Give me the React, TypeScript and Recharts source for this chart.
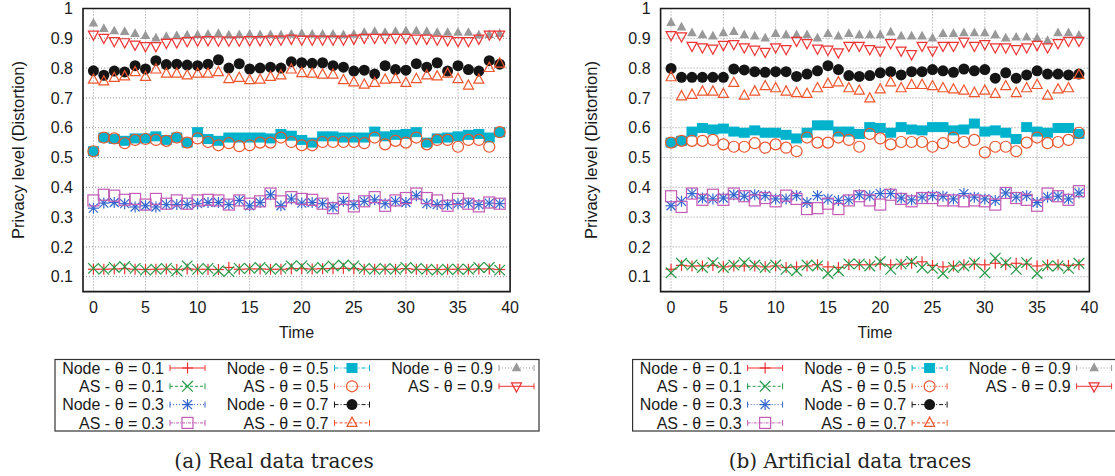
import React from 'react';
import { ScatterChart, Scatter, XAxis, YAxis, CartesianGrid, ReferenceArea, Label } from 'recharts';

const TIME = [0,1,2,3,4,5,6,7,8,9,10,11,12,13,14,15,16,17,18,19,20,21,22,23,24,25,26,27,28,29,30,31,32,33,34,35,36,37,38,39];
const X_TICKS = [0,5,10,15,20,25,30,35,40];
const Y_TICKS = [0.1,0.2,0.3,0.4,0.5,0.6,0.7,0.8,0.9,1];
const SERIES_NAMES = ['Node - θ = 0.1','AS - θ = 0.1','Node - θ = 0.3','AS - θ = 0.3','Node - θ = 0.5','AS - θ = 0.5','Node - θ = 0.7','AS - θ = 0.7','Node - θ = 0.9','AS - θ = 0.9'];

// (a) Real data traces
const A_NODE_01 = [0.125,0.125,0.126,0.127,0.125,0.124,0.125,0.126,0.124,0.126,0.125,0.125,0.124,0.131,0.125,0.126,0.126,0.125,0.125,0.127,0.127,0.126,0.127,0.127,0.128,0.127,0.125,0.125,0.125,0.125,0.127,0.125,0.124,0.124,0.125,0.125,0.125,0.126,0.126,0.124];
const A_AS_01 = [0.128,0.125,0.131,0.134,0.128,0.122,0.125,0.128,0.120,0.136,0.125,0.128,0.120,0.117,0.128,0.128,0.131,0.125,0.128,0.136,0.136,0.128,0.131,0.136,0.139,0.136,0.128,0.125,0.128,0.125,0.131,0.128,0.125,0.122,0.125,0.125,0.125,0.131,0.131,0.122];
const A_NODE_03 = [0.330,0.347,0.349,0.345,0.334,0.338,0.334,0.342,0.342,0.342,0.345,0.349,0.349,0.342,0.356,0.338,0.349,0.375,0.338,0.361,0.347,0.349,0.345,0.334,0.353,0.342,0.353,0.358,0.345,0.353,0.349,0.372,0.345,0.342,0.342,0.345,0.347,0.342,0.347,0.345];
const A_AS_03 = [0.356,0.375,0.372,0.358,0.361,0.342,0.361,0.345,0.356,0.345,0.356,0.358,0.356,0.342,0.356,0.345,0.353,0.379,0.353,0.367,0.361,0.358,0.345,0.330,0.361,0.336,0.353,0.367,0.338,0.356,0.364,0.379,0.364,0.356,0.338,0.361,0.345,0.336,0.349,0.345];
const A_NODE_05 = [0.521,0.567,0.562,0.556,0.564,0.564,0.571,0.559,0.567,0.550,0.585,0.562,0.556,0.567,0.567,0.567,0.567,0.564,0.579,0.573,0.559,0.550,0.571,0.571,0.567,0.567,0.567,0.587,0.571,0.576,0.579,0.585,0.550,0.564,0.567,0.571,0.576,0.579,0.567,0.585];
const A_AS_05 = [0.521,0.567,0.564,0.548,0.559,0.562,0.559,0.556,0.567,0.550,0.564,0.552,0.541,0.548,0.538,0.541,0.550,0.550,0.567,0.552,0.541,0.541,0.552,0.552,0.552,0.552,0.548,0.567,0.544,0.556,0.550,0.567,0.544,0.559,0.559,0.536,0.559,0.559,0.536,0.585];
const A_NODE_07 = [0.791,0.776,0.790,0.787,0.808,0.797,0.825,0.812,0.813,0.810,0.808,0.813,0.828,0.800,0.815,0.797,0.800,0.803,0.800,0.821,0.818,0.816,0.818,0.808,0.803,0.790,0.793,0.780,0.808,0.795,0.793,0.815,0.803,0.818,0.790,0.808,0.795,0.790,0.825,0.813];
const A_AS_07 = [0.761,0.755,0.767,0.772,0.786,0.770,0.795,0.781,0.781,0.775,0.781,0.781,0.786,0.763,0.767,0.759,0.761,0.770,0.775,0.795,0.783,0.781,0.778,0.778,0.759,0.752,0.744,0.750,0.761,0.763,0.750,0.763,0.775,0.772,0.781,0.763,0.741,0.761,0.800,0.815];
const A_NODE_09 = [0.950,0.932,0.924,0.922,0.915,0.908,0.900,0.905,0.908,0.910,0.911,0.913,0.915,0.910,0.911,0.913,0.911,0.911,0.910,0.913,0.915,0.913,0.913,0.913,0.911,0.913,0.919,0.922,0.919,0.922,0.924,0.924,0.922,0.919,0.919,0.919,0.919,0.910,0.912,0.915];
const A_AS_09 = [0.913,0.902,0.891,0.887,0.879,0.874,0.874,0.885,0.887,0.891,0.893,0.894,0.893,0.893,0.893,0.894,0.894,0.896,0.896,0.899,0.896,0.896,0.896,0.896,0.896,0.899,0.902,0.902,0.902,0.902,0.902,0.899,0.899,0.896,0.894,0.891,0.891,0.899,0.913,0.913];

// (b) Artificial data traces
const B_NODE_01 = [0.125,0.138,0.136,0.136,0.138,0.133,0.136,0.136,0.136,0.133,0.136,0.131,0.133,0.136,0.140,0.133,0.131,0.140,0.140,0.140,0.142,0.140,0.142,0.145,0.150,0.138,0.133,0.136,0.140,0.142,0.140,0.145,0.140,0.145,0.142,0.136,0.140,0.140,0.138,0.140];
const B_AS_01 = [0.113,0.145,0.139,0.131,0.147,0.131,0.139,0.147,0.139,0.131,0.139,0.125,0.120,0.139,0.136,0.111,0.120,0.143,0.143,0.136,0.151,0.125,0.143,0.151,0.131,0.128,0.111,0.131,0.136,0.147,0.113,0.162,0.147,0.125,0.147,0.111,0.136,0.136,0.128,0.145];
const B_NODE_03 = [0.338,0.353,0.379,0.364,0.361,0.364,0.375,0.370,0.375,0.372,0.361,0.361,0.372,0.349,0.372,0.361,0.356,0.358,0.375,0.372,0.379,0.379,0.364,0.358,0.367,0.372,0.370,0.361,0.379,0.367,0.361,0.356,0.381,0.367,0.372,0.349,0.367,0.370,0.361,0.381];
const B_AS_03 = [0.370,0.334,0.379,0.358,0.375,0.358,0.379,0.370,0.356,0.364,0.353,0.372,0.361,0.327,0.330,0.345,0.327,0.356,0.370,0.356,0.342,0.375,0.361,0.353,0.364,0.364,0.356,0.356,0.353,0.356,0.353,0.342,0.381,0.364,0.358,0.338,0.379,0.370,0.358,0.387];
const B_NODE_05 = [0.550,0.556,0.587,0.599,0.594,0.597,0.587,0.583,0.591,0.583,0.583,0.576,0.564,0.583,0.608,0.608,0.587,0.587,0.579,0.602,0.599,0.583,0.602,0.594,0.591,0.602,0.602,0.591,0.594,0.614,0.587,0.591,0.583,0.562,0.602,0.587,0.583,0.599,0.599,0.579];
const B_AS_05 = [0.550,0.556,0.556,0.556,0.559,0.544,0.536,0.536,0.548,0.533,0.544,0.533,0.521,0.567,0.550,0.550,0.567,0.559,0.536,0.579,0.564,0.544,0.552,0.552,0.552,0.536,0.548,0.567,0.552,0.559,0.517,0.536,0.536,0.521,0.550,0.567,0.548,0.552,0.559,0.583];
const B_NODE_07 = [0.799,0.769,0.769,0.769,0.769,0.769,0.797,0.794,0.788,0.786,0.788,0.788,0.772,0.780,0.791,0.808,0.795,0.775,0.772,0.775,0.784,0.788,0.777,0.788,0.788,0.795,0.791,0.786,0.797,0.791,0.795,0.766,0.784,0.766,0.777,0.791,0.780,0.780,0.777,0.780];
const B_AS_07 = [0.769,0.705,0.710,0.721,0.721,0.713,0.750,0.707,0.721,0.739,0.732,0.721,0.716,0.713,0.732,0.747,0.752,0.732,0.724,0.698,0.728,0.752,0.732,0.743,0.743,0.739,0.732,0.728,0.724,0.716,0.724,0.713,0.739,0.716,0.732,0.743,0.707,0.728,0.732,0.777];
const B_NODE_09 = [0.952,0.937,0.918,0.911,0.907,0.918,0.922,0.911,0.907,0.900,0.915,0.911,0.911,0.911,0.900,0.915,0.907,0.915,0.911,0.911,0.911,0.920,0.907,0.907,0.907,0.900,0.915,0.915,0.918,0.918,0.918,0.911,0.900,0.903,0.903,0.900,0.892,0.918,0.918,0.909];
const B_AS_09 = [0.911,0.907,0.875,0.870,0.866,0.878,0.881,0.870,0.862,0.855,0.870,0.864,0.892,0.884,0.866,0.862,0.853,0.875,0.875,0.864,0.859,0.884,0.859,0.847,0.875,0.859,0.875,0.875,0.889,0.875,0.881,0.870,0.870,0.864,0.870,0.878,0.870,0.884,0.892,0.892];

const A_VALUES = [A_NODE_01, A_AS_01, A_NODE_03, A_AS_03, A_NODE_05, A_AS_05, A_NODE_07, A_AS_07, A_NODE_09, A_AS_09];
const B_VALUES = [B_NODE_01, B_AS_01, B_NODE_03, B_AS_03, B_NODE_05, B_AS_05, B_NODE_07, B_AS_07, B_NODE_09, B_AS_09];

const STYLES = [
  { color: '#ee3333', marker: 'plus', dash: undefined },
  { color: '#229944', marker: 'cross', dash: '3 2' },
  { color: '#3366cc', marker: 'star', dash: '1 2' },
  { color: '#c25cb5', marker: 'square', dash: '3 1 1 1' },
  { color: '#00b2cc', marker: 'squareFill', dash: '4 2 1 2' },
  { color: '#e8552e', marker: 'circle', dash: '1 2' },
  { color: '#151515', marker: 'circleFill', dash: '4 2 1 2' },
  { color: '#f0552e', marker: 'triUp', dash: '3 2' },
  { color: '#999999', marker: 'triUpFill', dash: '1 2' },
  { color: '#ee3333', marker: 'triDown', dash: undefined },
];

const FONT = '"Liberation Sans", Arial, Helvetica, sans-serif';

function Marker({ kind, cx, cy, color }: { kind: string; cx: number; cy: number; color: string }) {
  const sw = 1.2;
  switch (kind) {
    case 'plus':
      return (<g stroke={color} strokeWidth={sw}><line x1={cx - 5.5} y1={cy} x2={cx + 5.5} y2={cy} /><line x1={cx} y1={cy - 5.5} x2={cx} y2={cy + 5.5} /></g>);
    case 'cross':
      return (<g stroke={color} strokeWidth={sw}><line x1={cx - 5.3} y1={cy - 5.3} x2={cx + 5.3} y2={cy + 5.3} /><line x1={cx - 5.3} y1={cy + 5.3} x2={cx + 5.3} y2={cy - 5.3} /></g>);
    case 'star':
      return (<g stroke={color} strokeWidth={sw}><line x1={cx - 5.5} y1={cy} x2={cx + 5.5} y2={cy} /><line x1={cx} y1={cy - 5.5} x2={cx} y2={cy + 5.5} /><line x1={cx - 4.5} y1={cy - 4.5} x2={cx + 4.5} y2={cy + 4.5} /><line x1={cx - 4.5} y1={cy + 4.5} x2={cx + 4.5} y2={cy - 4.5} /></g>);
    case 'square':
      return <rect x={cx - 5.5} y={cy - 5.5} width={11} height={11} fill="none" stroke={color} strokeWidth={sw} />;
    case 'squareFill':
      return <rect x={cx - 5.5} y={cy - 5} width={11} height={10} fill={color} stroke="none" />;
    case 'circle':
      return <circle cx={cx} cy={cy} r={5.5} fill="none" stroke={color} strokeWidth={sw} />;
    case 'circleFill':
      return <circle cx={cx} cy={cy} r={5.5} fill={color} stroke="none" />;
    case 'triUp':
      return <polygon points={`${cx},${cy - 5.8} ${cx - 5},${cy + 3.4} ${cx + 5},${cy + 3.4}`} fill="none" stroke={color} strokeWidth={sw} />;
    case 'triUpFill':
      return <polygon points={`${cx},${cy - 5.5} ${cx - 4.8},${cy + 3.2} ${cx + 4.8},${cy + 3.2}`} fill={color} stroke="none" />;
    case 'triDown':
      return <polygon points={`${cx},${cy + 5.8} ${cx - 5},${cy - 3.4} ${cx + 5},${cy - 3.4}`} fill="none" stroke={color} strokeWidth={sw} />;
    default:
      return null;
  }
}

const PLOT_TOP = 8.5;
const PLOT_BOTTOM = 291.6;
const CH_H = 340;
const X_AX_H = 30;
const Y_AX_W = 60;

function Panel({ left, width, plotLeft, plotRight, titleX, values }: { left: number; width: number; plotLeft: number; plotRight: number; titleX: number; values: number[][] }) {
  const tickStyle = { fontSize: 16, fill: '#1a1a1a', fontFamily: FONT };
  return (
    <div style={{ position: 'absolute', left, top: 0, width, height: CH_H }}>
      <ScatterChart
        width={width}
        height={CH_H}
        margin={{ top: PLOT_TOP, right: width - plotRight, bottom: CH_H - PLOT_BOTTOM - X_AX_H, left: plotLeft - Y_AX_W }}
      >
        <CartesianGrid stroke="#888888" strokeDasharray="1 2" strokeWidth={0.9} />
        <XAxis type="number" dataKey="t" domain={[-1, 40]} ticks={X_TICKS} tickLine={false} axisLine={false} height={X_AX_H} tick={tickStyle} tickSize={6} tickMargin={4} interval={0}>
          <Label content={(p: any) => {
            const vb = p.viewBox || { x: 0, width: 0 };
            return <text x={vb.x + vb.width / 2} y={338} textAnchor="middle" fontSize={16} fontFamily={FONT} fill="#1a1a1a">Time</text>;
          }} />
        </XAxis>
        <YAxis type="number" dataKey="v" domain={[0.05, 1]} ticks={Y_TICKS} tickLine={false} axisLine={false} width={Y_AX_W} tick={tickStyle} tickSize={6} tickMargin={4} interval={0} tickFormatter={(v: number) => (v === 1 ? '1' : String(v))}>
          <Label content={() => {
            const cy = (PLOT_TOP + PLOT_BOTTOM) / 2;
            return <text x={titleX} y={cy} transform={`rotate(-90, ${titleX}, ${cy})`} textAnchor="middle" dominantBaseline="central" fontSize={16.5} fontFamily={FONT} fill="#1a1a1a">Privacy level (Distortion)</text>;
          }} />
        </YAxis>
        {values.map((arr, si) => (
          <Scatter
            key={si}
            name={SERIES_NAMES[si]}
            data={arr.map((v, i) => ({ t: TIME[i], v }))}
            isAnimationActive={false}
            shape={(p: any) => <Marker kind={STYLES[si].marker} cx={p.cx} cy={p.cy} color={STYLES[si].color} />}
          />
        ))}
        <ReferenceArea x1={-1} x2={40} y1={0.05} y2={1} fill="none" fillOpacity={0} stroke="#1a1a1a" strokeWidth={1.6} ifOverflow="visible" />
      </ScatterChart>
    </div>
  );
}

const ROW_Y = [368, 386.3, 404.6, 422.9];

function LegendBox({ boxX, boxW }: { boxX: number; boxW: number }) {
  return (
    <g>
      <rect x={boxX} y={359.5} width={boxW} height={71.5} fill="#fff" stroke="#333" strokeWidth={1.2} />
      {SERIES_NAMES.map((name, i) => {
        const col = Math.floor(i / 4);
        const row = i % 4;
        const tx = boxX + 109 + col * 164.5;
        const y = ROW_Y[row];
        const s = STYLES[i];
        const x1 = tx + 6;
        const x2 = tx + 41;
        return (
          <g key={i}>
            <text x={tx} y={y} dy="0.36em" textAnchor="end" fontSize={16} fontFamily={FONT} fill="#1a1a1a">{name}</text>
            <line x1={x1} y1={y} x2={x2} y2={y} stroke={s.color} strokeWidth={1} strokeDasharray={s.dash} />
            <line x1={x1} y1={y - 3} x2={x1} y2={y + 3} stroke={s.color} strokeWidth={1} />
            <line x1={x2} y1={y - 3} x2={x2} y2={y + 3} stroke={s.color} strokeWidth={1} />
            <Marker kind={s.marker} cx={(x1 + x2) / 2} cy={y} color={s.color} />
          </g>
        );
      })}
    </g>
  );
}

export default function App() {
  return (
    <div style={{ position: 'fixed', left: 0, top: 0, width: 1115, height: 476, background: '#fff', overflow: 'hidden' }}>
      <Panel left={0} width={557} plotLeft={83} plotRight={510.1} titleX={18} values={A_VALUES} />
      <Panel left={557} width={558} plotLeft={103.6} plotRight={532.4} titleX={34} values={B_VALUES} />
      <svg width={1115} height={476} style={{ position: 'absolute', left: 0, top: 0, pointerEvents: 'none' }}>
        <LegendBox boxX={55} boxW={484} />
        <LegendBox boxX={632.6} boxW={500} />
        <text x={274} y={468} textAnchor="middle" fontSize={20} fontFamily='"DejaVu Serif", serif' fill="#222">(a) Real data traces</text>
        <text x={850} y={468} textAnchor="middle" fontSize={20} fontFamily='"DejaVu Serif", serif' fill="#222">(b) Artificial data traces</text>
      </svg>
    </div>
  );
}
